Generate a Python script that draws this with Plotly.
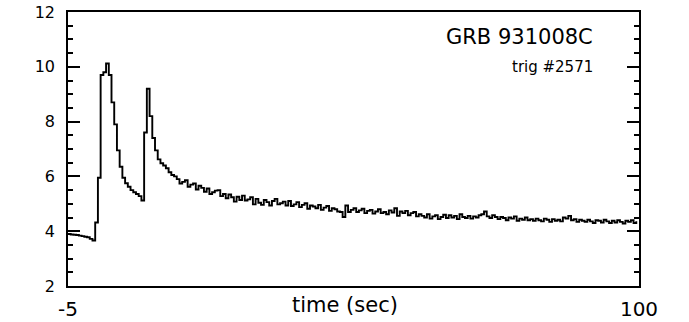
import plotly.graph_objects as go

# BATSE light curve, 0.5 s bins starting at t = -5 s (rate, arbitrary units)
t_start = -5.0
bin_width = 0.5
rate = [
    3.90, 3.88, 3.87, 3.86, 3.84, 3.82, 3.80, 3.78, 3.72, 3.66,
    4.32, 5.95, 9.70, 9.80, 10.12, 9.70, 8.70, 7.90, 6.95, 6.35,
    5.95, 5.75, 5.62, 5.50, 5.42, 5.36, 5.28, 5.12, 7.60, 9.20,
    8.20, 7.40, 6.95, 6.62, 6.48, 6.40, 6.30, 6.15, 6.05, 6.00,
    5.90, 5.74, 5.80, 5.86, 5.62, 5.70, 5.74, 5.52, 5.66, 5.58,
    5.44, 5.56, 5.36, 5.42, 5.48, 5.50, 5.28, 5.36, 5.20, 5.34,
    5.24, 5.08, 5.26, 5.14, 5.30, 5.12, 5.16, 5.24, 4.98, 5.18,
    5.04, 4.96, 5.14, 5.06, 4.94, 5.10, 5.18, 4.98, 5.02, 5.08,
    4.94, 5.10, 4.92, 4.98, 5.06, 4.88, 4.96, 5.02, 4.82, 4.94,
    4.90, 4.84, 4.96, 4.78, 4.86, 4.92, 4.74, 4.84, 4.80, 4.72,
    4.70, 4.52, 4.94, 4.70, 4.78, 4.84, 4.70, 4.76, 4.82, 4.66,
    4.74, 4.78, 4.64, 4.72, 4.80, 4.66, 4.70, 4.62, 4.76, 4.68,
    4.84, 4.56, 4.72, 4.66, 4.74, 4.58, 4.66, 4.70, 4.54, 4.62,
    4.56, 4.50, 4.62, 4.46, 4.54, 4.58, 4.44, 4.52, 4.60, 4.48,
    4.58, 4.50, 4.56, 4.44, 4.62, 4.52, 4.48, 4.56, 4.46, 4.54,
    4.50, 4.58, 4.62, 4.72, 4.54, 4.48, 4.58, 4.52, 4.44, 4.52,
    4.48, 4.40, 4.50, 4.46, 4.54, 4.38, 4.46, 4.42, 4.50, 4.40,
    4.44, 4.38, 4.46, 4.40, 4.36, 4.46, 4.42, 4.34, 4.44, 4.38,
    4.42, 4.36, 4.50, 4.46, 4.56, 4.40, 4.44, 4.34, 4.42, 4.38,
    4.34, 4.42, 4.36, 4.30, 4.40, 4.38, 4.32, 4.42, 4.36, 4.30,
    4.38, 4.32, 4.40, 4.34, 4.28, 4.38, 4.34, 4.40, 4.30, 4.36,
]
time = [t_start + bin_width * i for i in range(len(rate))]

x_range = [-5, 100]
y_range = [2, 12]
y_ticks = [2, 4, 6, 8, 10, 12]
x_ticks = [-5, 100]
burst_name = "GRB 931008C"
trigger_label = "trig #2571"
x_title = "time (sec)"

FONT = "DejaVu Sans"

fig = go.Figure()
fig.add_trace(go.Scatter(
    x=time, y=rate, mode="lines",
    line=dict(color="black", width=1.9, shape="hv"),
    showlegend=False, hoverinfo="skip",
))

fig.update_layout(
    width=689, height=322,
    margin=dict(l=68, r=50, t=12, b=36),
    paper_bgcolor="white", plot_bgcolor="white",
    font=dict(family=FONT, color="black"),
    xaxis=dict(
        range=x_range, tickvals=x_ticks, ticktext=[str(v) for v in x_ticks],
        ticks="", showgrid=False, zeroline=False, automargin=False,
        showline=True, linecolor="black", linewidth=1.5, mirror=True,
        tickfont=dict(size=20, family=FONT), ticklabelstandoff=4,
    ),
    yaxis=dict(
        range=y_range, tickvals=y_ticks, automargin=False,
        ticks="inside", ticklen=12, tickwidth=1.5, tickcolor="black",
        minor=dict(dtick=0.5, ticks="inside", ticklen=5, tickwidth=1.5, tickcolor="black"),
        showgrid=False, zeroline=False,
        showline=True, linecolor="black", linewidth=1.5, mirror="ticks",
        tickfont=dict(size=16, family=FONT), ticklabelstandoff=8,
    ),
    annotations=[
        dict(text=burst_name, xref="paper", yref="paper", x=0.923, y=0.907,
             xanchor="right", yanchor="middle", showarrow=False,
             font=dict(size=21, family=FONT)),
        dict(text=trigger_label, xref="paper", yref="paper", x=0.923, y=0.80,
             xanchor="right", yanchor="middle", showarrow=False,
             font=dict(size=15, family=FONT)),
        dict(text=x_title, xref="paper", yref="paper", x=0.485, y=-0.07,
             xanchor="center", yanchor="middle", showarrow=False,
             font=dict(size=21, family=FONT)),
    ],
)

fig.write_html("out.html")
